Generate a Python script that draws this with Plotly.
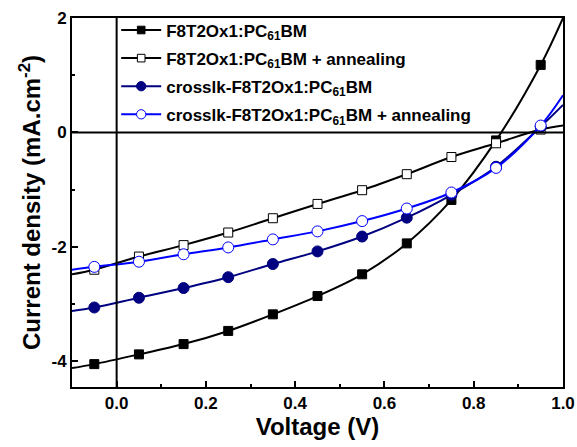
import plotly.graph_objects as go

# voltage points (markers) plus the ends of the fitted curves
voltage = [-0.1, -0.05, 0.05, 0.15, 0.25, 0.35, 0.45, 0.55, 0.65, 0.75, 0.85, 0.95, 1.0]

# current density (mA/cm2)
j_plain = [-4.12, -4.05, -3.88, -3.70, -3.47, -3.18, -2.86, -2.48, -1.94, -1.18, -0.14, 1.18, 2.0]
j_plain_ann = [-2.48, -2.40, -2.17, -1.97, -1.75, -1.50, -1.25, -1.01, -0.73, -0.43, -0.19, 0.05, 0.12]
j_cross = [-3.12, -3.06, -2.89, -2.72, -2.53, -2.30, -2.08, -1.82, -1.49, -1.09, -0.60, 0.10, 0.48]
j_cross_ann = [-2.40, -2.35, -2.26, -2.13, -2.01, -1.87, -1.73, -1.55, -1.33, -1.05, -0.62, 0.12, 0.65]

names = [
    "F8T2Ox1:PC<sub>61</sub>BM",
    "F8T2Ox1:PC<sub>61</sub>BM + annealing",
    "crosslk-F8T2Ox1:PC<sub>61</sub>BM",
    "crosslk-F8T2Ox1:PC<sub>61</sub>BM + annealing",
]

x_ticks = [0, 0.2, 0.4, 0.6, 0.8, 1.0]
x_labels = ["0.0", "0.2", "0.4", "0.6", "0.8", "1.0"]
y_ticks = [-4, -2, 0, 2]
y_labels = ["-4", "-2", "0", "2"]

FONT = "Arial, Liberation Sans"

fig = go.Figure()


def add_series(y, name, color, symbol, fill, size):
    # no markers on the curve end points
    sizes = [0] + [size] * (len(voltage) - 2) + [0]
    fig.add_trace(go.Scatter(
        x=voltage, y=y, name="<b>" + name + "</b>", mode="lines+markers",
        legendgroup=name,
        line=dict(color=color, width=2, shape="spline"),
        marker=dict(symbol=symbol, size=sizes, color=fill, opacity=1,
                    line=dict(color=color, width=1)),
    ))


add_series(j_plain, names[0], "black", "square", "black", 9)
add_series(j_plain_ann, names[1], "black", "square", "white", 9)
add_series(j_cross, names[2], "#000080", "circle", "#000080", 11)
add_series(j_cross_ann, names[3], "#0000ff", "circle", "white", 11)

# zero lines
fig.add_hline(y=0, line=dict(color="black", width=2))
fig.add_vline(x=0, line=dict(color="black", width=2))

tick_font = dict(family=FONT, size=17, color="black")
title_font = dict(family=FONT, size=24, color="black")
fig.update_xaxes(
    range=[-0.1, 1.0], tickvals=x_ticks,
    ticktext=["<b>" + t + "</b>" for t in x_labels],
    ticks="inside", ticklen=6, tickwidth=2, tickcolor="black",
    minor=dict(ticks="inside", dtick=0.1, tick0=0, ticklen=3, tickwidth=2, tickcolor="black"),
    showline=True, linecolor="black", linewidth=2, mirror=True,
    showgrid=False, zeroline=False, automargin=False,
    tickfont=tick_font,
    title=dict(text="<b>Voltage (V)</b>", font=title_font, standoff=0),
)
fig.update_yaxes(
    range=[-4.45, 2.0], tickvals=y_ticks,
    ticktext=["<b>" + t + "</b>" for t in y_labels],
    ticks="inside", ticklen=6, tickwidth=2, tickcolor="black",
    minor=dict(ticks="inside", dtick=1, tick0=0, ticklen=3, tickwidth=2, tickcolor="black"),
    showline=True, linecolor="black", linewidth=2, mirror=True,
    showgrid=False, zeroline=False, automargin=False,
    tickfont=tick_font,
    title=dict(text="<b>Current density (mA.cm<sup>-2</sup>)</b>", font=title_font, standoff=4),
)

fig.update_layout(
    width=577, height=447,
    margin=dict(l=72, r=14, t=16, b=60),
    plot_bgcolor="white", paper_bgcolor="white",
    font=dict(family=FONT, color="black"),
    legend=dict(
        x=0.09, y=1.015, xanchor="left", yanchor="top",
        bgcolor="rgba(0,0,0,0)", borderwidth=0,
        font=dict(family=FONT, size=17, color="black"),
        traceorder="grouped", tracegroupgap=3, itemwidth=40,
    ),
)

fig.write_html("out.html", config={"displayModeBar": False},
               post_script="document.body.style.margin='0';")
